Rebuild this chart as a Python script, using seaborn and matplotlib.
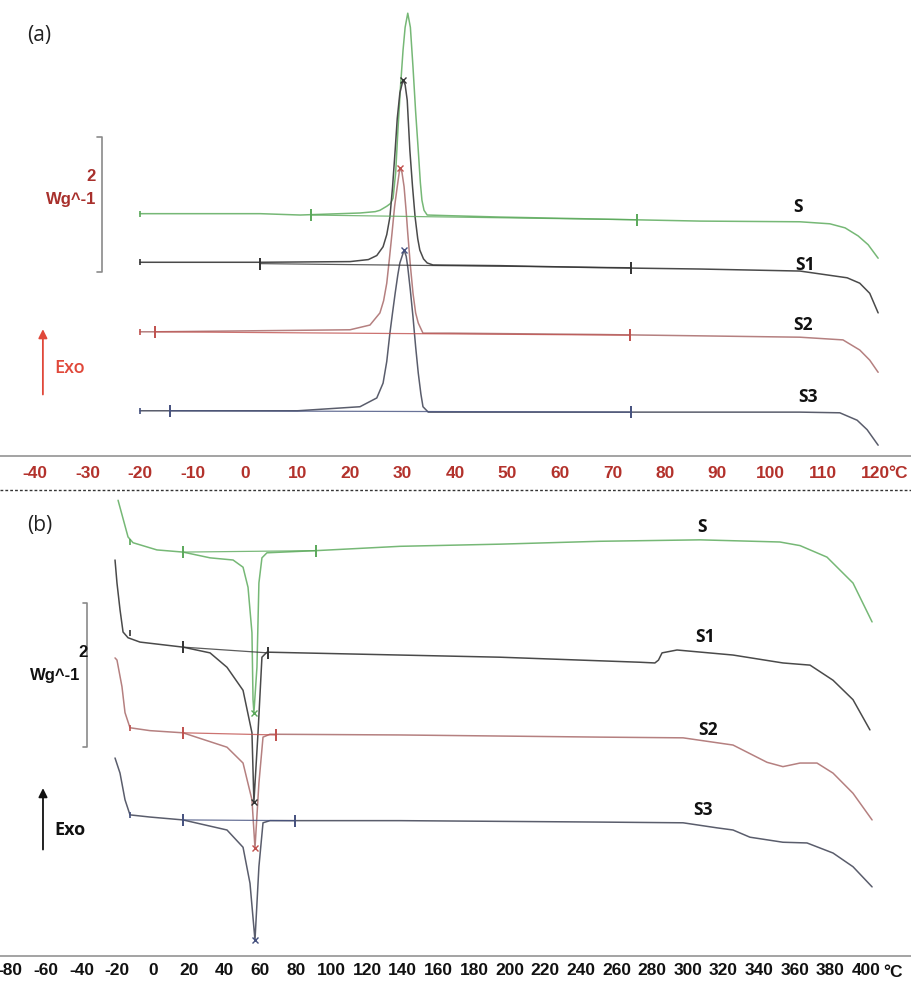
import numpy as np
import pandas as pd
import matplotlib
matplotlib.use("Agg")
import matplotlib.pyplot as plt
from matplotlib import font_manager
from matplotlib.lines import Line2D
from matplotlib.ticker import MultipleLocator
import seaborn as sns

# %% data (temperature in °C, heat flow in W/g, stacked as drawn)
samples = ["S", "S1", "S2", "S3"]

# (a) cooling scans
a_S_t = [-20.0, -8.6, 2.9, 10.5, 18.1, 21.9, 24.8, 25.7, 27.0, 27.7, 28.2, 28.7, 29.1, 29.6, 30.1, 30.5,
         31.0, 31.5, 32.0, 32.5, 33.0, 33.4, 33.7, 34.1, 34.7, 39.0, 48.6, 67.6, 86.7, 105.7, 111.4,
         114.3, 116.8, 118.7, 120.6]
a_S_w = [3.59, 3.59, 3.59, 3.57, 3.59, 3.60, 3.62, 3.64, 3.70, 3.74, 3.82, 4.20, 4.79, 5.45, 6.01, 6.35,
         6.56, 6.35, 5.76, 5.10, 4.53, 4.05, 3.79, 3.64, 3.57, 3.56, 3.54, 3.51, 3.48, 3.47, 3.44,
         3.38, 3.26, 3.13, 2.93]
a_S1_t = [-20.0, 2.9, 20.0, 23.5, 25.1, 26.3, 27.0, 27.6, 28.1, 28.6, 29.0, 29.5, 30.1, 30.5, 30.9,
          31.4, 31.9, 32.4, 32.9, 33.3, 34.0, 34.7, 35.8, 48.6, 67.6, 86.7, 105.7, 114.7, 117.1,
          119.0, 120.6]
a_S1_w = [2.87, 2.87, 2.88, 2.91, 2.97, 3.10, 3.28, 3.54, 3.98, 4.53, 5.00, 5.38, 5.57, 5.50, 5.27,
          4.53, 4.00, 3.54, 3.22, 3.05, 2.92, 2.86, 2.83, 2.82, 2.79, 2.77, 2.74, 2.64, 2.56,
          2.41, 2.12]
a_S2_t = [-20.0, -17.1, 20.0, 23.8, 25.7, 26.4, 27.0, 27.5, 28.0, 28.5, 29.0, 29.5, 29.9, 30.3, 30.7,
          31.0, 31.5, 32.0, 32.5, 33.0, 33.9, 39.0, 67.6, 86.7, 105.7, 113.9, 117.1, 119.0, 120.6]
a_S2_w = [1.84, 1.84, 1.87, 1.94, 2.12, 2.30, 2.56, 2.92, 3.30, 3.70, 3.99, 4.27, 4.20, 3.99, 3.62,
          3.30, 2.82, 2.41, 2.12, 1.97, 1.82, 1.82, 1.80, 1.78, 1.76, 1.72, 1.57, 1.42, 1.24]
a_S3_t = [-20.0, -14.3, 10.0, 21.9, 25.1, 26.3, 27.0, 27.6, 28.1, 28.6, 29.1, 29.5, 30.3, 30.7, 31.0,
          31.5, 32.0, 32.5, 33.0, 33.5, 33.9, 34.9, 48.6, 67.6, 86.7, 105.7, 113.3, 116.6, 118.5, 120.6]
a_S3_w = [0.67, 0.67, 0.67, 0.73, 0.86, 1.08, 1.40, 1.82, 2.12, 2.41, 2.68, 2.86, 3.05, 2.96, 2.80,
          2.45, 2.06, 1.62, 1.23, 0.92, 0.73, 0.65, 0.65, 0.65, 0.65, 0.65, 0.64, 0.53, 0.39, 0.16]
# integration limits (start, end) and baseline heat flow at those limits
a_lim_t = [(12.6, 74.7), (2.9, 73.5), (-17.1, 73.3), (-14.3, 73.5)]
a_lim_w = [(3.57, 3.50), (2.85, 2.79), (1.84, 1.79), (0.67, 0.65)]
a_peak_t = [None, 30.1, 29.5, 30.3]
a_peak_w = [None, 5.57, 4.27, 3.05]

# (b) heating scans
b_S_t = [-19.6, -14.0, -11.2, 2.2, 16.8, 32.0, 44.9, 50.5, 53.3, 55.5, 56.1, 56.6, 58.3, 59.4, 61.1,
         63.9, 91.4, 138.5, 194.6, 250.7, 306.8, 351.6, 362.9, 378.0, 392.6, 403.3]
b_S_w = [6.33, 5.82, 5.74, 5.64, 5.61, 5.53, 5.50, 5.40, 5.12, 4.49, 3.56, 3.38, 4.01, 5.18, 5.53,
         5.60, 5.63, 5.69, 5.72, 5.76, 5.78, 5.75, 5.70, 5.54, 5.18, 4.64]
b_S1_t = [-21.3, -20.2, -18.5, -16.8, -14.0, -7.3, 16.8, 32.0, 41.5, 50.5, 55.5, 56.6, 58.9, 61.1, 63.9,
          82.4, 138.5, 194.6, 273.1, 281.5, 283.5, 285.5, 293.9, 325.3, 353.3, 368.5, 381.4, 392.6, 402.1]
b_S1_w = [5.50, 5.18, 4.81, 4.50, 4.42, 4.36, 4.29, 4.21, 4.01, 3.69, 3.10, 2.14, 3.10, 4.15, 4.22,
          4.21, 4.18, 4.15, 4.08, 4.07, 4.11, 4.21, 4.25, 4.18, 4.07, 4.04, 3.83, 3.56, 3.14]
b_S2_t = [-21.3, -20.2, -17.4, -15.7, -12.9, -1.7, 16.8, 41.5, 50.5, 55.5, 57.2, 59.4, 61.7, 65.6, 138.5,
          250.7, 297.3, 325.3, 344.4, 353.3, 362.9, 372.4, 381.4, 392.6, 403.3]
b_S2_w = [4.14, 4.11, 3.74, 3.38, 3.17, 3.13, 3.10, 2.90, 2.68, 2.17, 1.50, 2.40, 3.04, 3.08, 3.07,
          3.04, 3.03, 2.93, 2.69, 2.63, 2.68, 2.68, 2.54, 2.26, 1.89]
b_S3_t = [-21.3, -18.5, -15.7, -12.9, -1.7, 16.8, 41.5, 50.5, 54.4, 57.2, 59.4, 61.7, 65.6, 138.5,
          250.7, 297.3, 316.3, 325.3, 334.8, 353.3, 366.8, 381.4, 392.6, 403.3]
b_S3_w = [2.75, 2.54, 2.17, 1.96, 1.93, 1.89, 1.75, 1.51, 1.01, 0.22, 1.24, 1.85, 1.88, 1.88,
          1.86, 1.85, 1.78, 1.75, 1.65, 1.58, 1.57, 1.43, 1.24, 0.96]
b_lim_t = [(16.8, 91.4), (16.8, 64.5), (16.8, 69.0), (16.8, 79.6)]
b_lim_w = [(5.61, 5.63), (4.29, 4.21), (3.10, 3.07), (1.89, 1.88)]
b_knee_t = [-12.9, -12.9, -12.9, -12.9]
b_knee_w = [5.75, 4.49, 3.17, 1.96]
b_peak_t = [56.6, 56.6, 57.2, 57.2]
b_peak_w = [3.38, 2.14, 1.50, 0.22]

a_ticks = list(range(-40, 121, 10))
b_ticks = list(range(-80, 401, 20))

colors = {"S": "#76b876", "S1": "#4a4a4a", "S2": "#b58080", "S3": "#5a5d6c"}
base_colors = {"S": "#5aa85a", "S1": "#333333", "S2": "#c0504d", "S3": "#44507e"}

# %%
sns.set_style("white")
names = {f.name for f in font_manager.fontManager.ttflist}
narrow = "Liberation Sans Narrow" if "Liberation Sans Narrow" in names else "Liberation Sans"
plt.rcParams["font.family"] = ["Open Sans", "DejaVu Sans"]

fig = plt.figure(figsize=(9.12, 9.81), dpi=100)
ax_a = fig.add_axes([0, 1 - 456 / 981, 1, 456 / 981])
ax_b = fig.add_axes([0, 1 - 956 / 981, 1, (956 - 492) / 981])


def frame(t_lists, w_lists):
    parts = [pd.DataFrame({"T": t, "W": w, "sample": s}) for s, t, w in zip(samples, t_lists, w_lists)]
    return pd.concat(parts, ignore_index=True)


df_a = frame([a_S_t, a_S1_t, a_S2_t, a_S3_t], [a_S_w, a_S1_w, a_S2_w, a_S3_w])
df_b = frame([b_S_t, b_S1_t, b_S2_t, b_S3_t], [b_S_w, b_S1_w, b_S2_w, b_S3_w])

for ax, df in [(ax_a, df_a), (ax_b, df_b)]:
    sns.lineplot(data=df, x="T", y="W", hue="sample", palette=colors, sort=False,
                 estimator=None, legend=False, linewidth=1.1, ax=ax)

# integration baselines and limit markers
for ax, lim_t, lim_w in [(ax_a, a_lim_t, a_lim_w), (ax_b, b_lim_t, b_lim_w)]:
    for s, lt, lw in zip(samples, lim_t, lim_w):
        ax.plot(lt, lw, color=base_colors[s], lw=0.9, alpha=0.8)
        ax.plot(lt, lw, ls="none", marker="|", ms=8, mew=1.4, color=base_colors[s])

# start markers in (a), knee markers in (b)
for s, t0, w0 in zip(samples, [a_S_t[0], a_S1_t[0], a_S2_t[0], a_S3_t[0]],
                     [a_S_w[0], a_S1_w[0], a_S2_w[0], a_S3_w[0]]):
    ax_a.plot([t0], [w0], ls="none", marker="|", ms=5, mew=1.2, color=base_colors[s])
for s, t0, w0 in zip(samples, b_knee_t, b_knee_w):
    ax_b.plot([t0], [w0], ls="none", marker="|", ms=5, mew=1.2, color=base_colors[s])

# peak marks
for s, pt, pw in zip(samples, a_peak_t, a_peak_w):
    if pt is not None:
        ax_a.plot([pt], [pw], ls="none", marker="x", ms=4, mew=1, color=base_colors[s])
for s, pt, pw in zip(samples, b_peak_t, b_peak_w):
    ax_b.plot([pt], [pw], ls="none", marker="x", ms=4, mew=1, color=base_colors[s])

# sample labels
a_lab_t = [105.3, 106.7, 106.3, 107.2]
a_lab_w = [3.69, 2.83, 1.94, 0.87]
b_lab_t = [308.0, 309.6, 311.3, 308.5]
b_lab_w = [5.96, 4.43, 3.14, 2.03]
for s, lt, lw in zip(samples, a_lab_t, a_lab_w):
    ax_a.text(lt, lw, s, ha="center", va="center", fontsize=12.5, fontweight="bold", color="#111111")
for s, lt, lw in zip(samples, b_lab_t, b_lab_w):
    ax_b.text(lt, lw, s, ha="center", va="center", fontsize=12.5, fontweight="bold", color="#111111")

# axes styling
ax_a.set_xlim(-46.67, 127.05)
ax_a.set_ylim(0, 456 / 67.5)
ax_b.set_xlim(-85.81, 425.69)
ax_b.set_ylim(0, 464 / 72)

for ax, ticks, minor, lab_color, pad in [(ax_a, a_ticks, 2, "#b3322c", 7), (ax_b, b_ticks, 10, "#111111", 5)]:
    for side in ["left", "right", "top"]:
        ax.spines[side].set_visible(False)
    ax.spines["bottom"].set_color("#9c9c9c")
    ax.spines["bottom"].set_linewidth(1.3)
    ax.set_yticks([])
    ax.set_xticks(ticks)
    ax.set_xticklabels([str(t) for t in ticks])
    ax.xaxis.set_minor_locator(MultipleLocator(minor))
    ax.tick_params(axis="x", which="major", direction="in", length=4, width=1, color="#9c9c9c",
                   labelcolor=lab_color, labelsize=12.5, pad=pad)
    ax.tick_params(axis="x", which="minor", direction="in", length=2.5, width=0.8, color="#9c9c9c")
    for lab in ax.get_xticklabels():
        lab.set_fontfamily(narrow)
        lab.set_fontweight("bold")
    ax.set_xlabel("")
    ax.set_ylabel("")
    ax.patch.set_alpha(0)

ax_a.annotate("°C", xy=(120, 0), xytext=(9.5, -12.6), textcoords="offset points", ha="left", va="center",
              fontsize=12.5, fontweight="bold", color="#b3322c", family=narrow, annotation_clip=False)
ax_b.annotate("°C", xy=(400, 0), xytext=(12.5, -11.6), textcoords="offset points", ha="left", va="center",
              fontsize=12.5, fontweight="bold", color="#111111", family=narrow, annotation_clip=False)

# scale bars (2 W/g) and exo arrows
scale = 2.0
ax_a.plot([-28.2, -27.2, -27.2, -28.2], [4.73, 4.73, 4.73 - scale, 4.73 - scale], color="#8a8a8a", lw=1.2)
ax_a.text(-28.4, 4.14, "2", ha="right", va="center", fontsize=12, fontweight="bold",
          color="#a8302c", family="Liberation Sans")
ax_a.text(-28.4, 3.80, "Wg^-1", ha="right", va="center", fontsize=12, fontweight="bold",
          color="#a8302c", family="Liberation Sans")
ax_a.annotate("", xy=(-38.5, 1.92), xytext=(-38.5, 0.87),
              arrowprops=dict(arrowstyle="-|>", color="#e0483a", lw=1.3, mutation_scale=13))
ax_a.text(-36.3, 1.30, "Exo", ha="left", va="center", fontsize=13, fontweight="semibold", color="#e0483a")

ax_b.plot([-39.3, -37.0, -37.0, -39.3], [4.90, 4.90, 4.90 - scale, 4.90 - scale], color="#8a8a8a", lw=1.2)
ax_b.text(-36.5, 4.22, "2", ha="right", va="center", fontsize=12, fontweight="bold",
          color="#111111", family="Liberation Sans")
ax_b.text(-40.5, 3.90, "Wg^-1", ha="right", va="center", fontsize=12, fontweight="bold",
          color="#111111", family="Liberation Sans")
ax_b.annotate("", xy=(-61.7, 2.37), xytext=(-61.7, 1.44),
              arrowprops=dict(arrowstyle="-|>", color="#111111", lw=1.3, mutation_scale=13))
ax_b.text(-55.5, 1.75, "Exo", ha="left", va="center", fontsize=13, fontweight="bold", color="#111111")

# panel letters and separator
fig.text(27 / 912, 1 - 35 / 981, "(a)", ha="left", va="center", fontsize=15, color="#222222")
fig.text(27 / 912, 1 - 525 / 981, "(b)", ha="left", va="center", fontsize=15, color="#222222")
fig.add_artist(Line2D([0, 1], [1 - 490 / 981, 1 - 490 / 981], transform=fig.transFigure,
                      color="#333333", lw=1.0, ls=(0, (2, 1.5))))

fig.savefig("out.png", dpi=100)
